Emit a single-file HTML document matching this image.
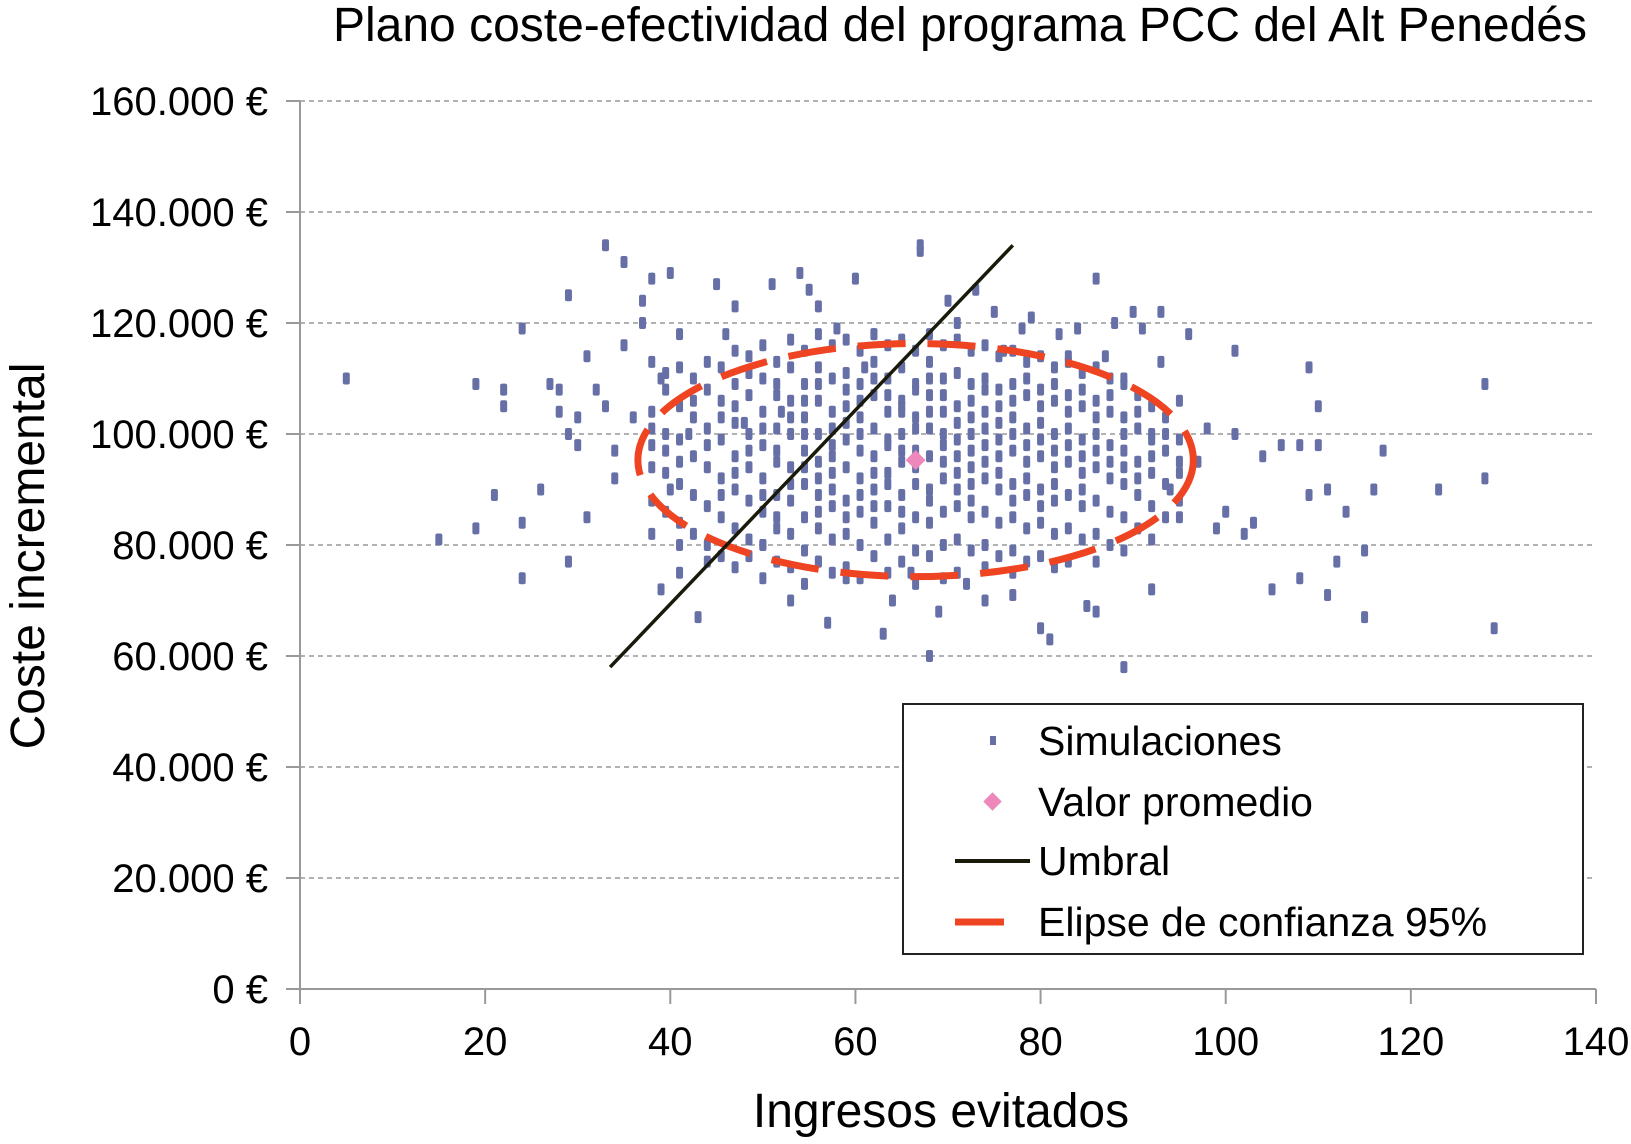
<!DOCTYPE html>
<html><head><meta charset="utf-8">
<style>
html,body{margin:0;padding:0;background:#fff;}
svg text{font-family:"Liberation Sans",Arial,sans-serif;fill:#000;}
</style></head>
<body>
<svg id="chart" width="1631" height="1139" viewBox="0 0 1631 1139" xmlns="http://www.w3.org/2000/svg">
<text x="960" y="41" font-size="48" text-anchor="middle">Plano coste-efectividad del programa PCC del Alt Penedés</text>
<g id="grid"></g>
<g id="axes"></g>
<g id="points"></g>
<g id="overlay"></g>
<text transform="translate(44,556) rotate(-90)" font-size="48" text-anchor="middle">Coste incremental</text>
<text x="941" y="1127" font-size="48" text-anchor="middle">Ingresos evitados</text>
<g>
<rect x="903" y="704" width="680" height="250" fill="#fff" stroke="#222" stroke-width="2"/>
<rect x="990" y="736" width="6" height="9" fill="#6670a6"/>
<text x="1038" y="755" font-size="41">Simulaciones</text>
<rect x="986" y="795" width="13" height="13" fill="#ee88bb" transform="rotate(45 992.5 801.5)"/>
<text x="1038" y="816" font-size="41">Valor promedio</text>
<line x1="955" y1="861" x2="1030" y2="861" stroke="#1a1a0a" stroke-width="4"/>
<text x="1038" y="875" font-size="41">Umbral</text>
<line x1="955" y1="922" x2="1004" y2="922" stroke="#ee4422" stroke-width="7"/>
<text x="1038" y="936" font-size="41">Elipse de confianza 95%</text>
</g>
</svg>
<script>
const xTicks=[0,20,40,60,80,100,120,140];
const yTicks=[0,20000,40000,60000,80000,100000,120000,140000,160000];
const yTickLabels=["0 €","20.000 €","40.000 €","60.000 €","80.000 €","100.000 €","120.000 €","140.000 €","160.000 €"];
const outX=[5,15,19,19,21,22,22,24,24,24,26,27,28,28,29,29,29,30,30,31,31,32,33,33,34,34,35,35,36,37,37,38,38,38,39,39,40,40,41,41,43,42,45,46,47,48,50,51,52,53,54,55,56,56,57,58,59,60,61,62,63,64,65,66,67,67,68,69,70,71,72,73,74,75,76,77,78,79,80,81,82,83,84,85,86,86,87,88,89,89,90,91,92,92,93,93,94,95,95,96,97,98,99,100,101,101,102,103,104,105,106,108,108,109,109,110,110,111,111,112,115,115,116,117,113,123,128,128,129];
const outY=[110,81,109,83,89,108,105,119,84,74,90,109,108,104,125,100,77,98,103,85,114,108,134,105,97,92,131,116,103,124,120,128,113,82,110,72,129,90,75,118,67,100,127,118,123,102,80,127,104,70,129,126,123,77,66,119,74,128,112,118,64,70,105,75,134,133,60,68,124,120,73,126,70,122,115,71,119,121,65,63,118,114,119,69,128,68,114,120,58,110,122,119,100,72,113,122,90,106,85,118,95,101,83,86,115,100,82,84,96,72,98,98,74,112,89,105,98,71,90,77,67,79,90,97,86,90,109,92,65];
const colX=[38,39.5,41,42.5,44,45.5,47,48.5,50,51.5,53,54.5,56,57.5,59,60.5,62,63.5,65,66.5,68,69.5,71,72.5,74,75.5,77,78.5,80,81.5,83,84.5,86,87.5,89,90.5,92,93.5,95];
const colY=[
[104,98,94,88,101],
[108,100,93,86,97,111],
[112,105,99,91,84,80,95],
[110,103,96,89,82,106],
[113,108,101,94,87,80,77,98],
[112,106,99,92,85,78,103,89],
[115,109,102,96,90,83,76,105,93],
[114,107,100,94,88,81,78,111,97],
[116,110,104,98,92,86,80,74,101,89],
[113,107,101,95,89,83,77,109,97,85],
[117,112,106,100,94,88,82,76,103,91],
[115,109,103,97,91,85,79,73,106,94,100],
[118,112,106,100,95,89,83,77,109,92,86],
[116,110,104,98,93,87,81,75,101,96,90],
[117,111,105,99,94,88,82,76,108,102,85],
[115,109,103,97,92,86,80,74,106,100,89],
[118,113,107,101,96,90,84,78,110,93,87],
[116,110,104,98,93,87,81,75,107,99,91],
[117,112,106,100,95,89,83,77,104,97,86],
[115,109,103,97,91,85,79,73,108,101,94],
[118,113,107,101,96,90,84,78,110,104,88],
[116,110,104,98,92,86,80,74,107,100,95],
[117,111,105,99,93,87,81,75,102,96,90],
[115,109,103,97,91,85,79,106,100,94,88],
[116,110,104,98,92,86,80,76,108,101,95],
[114,108,102,96,90,84,78,105,99,93],
[115,109,103,97,91,85,79,75,106,100,88],
[113,107,101,95,89,83,77,110,98,92],
[114,108,102,96,90,84,78,105,99,87],
[112,106,100,94,88,82,76,109,97,91],
[113,107,101,95,89,83,77,104,98],
[111,105,99,93,87,81,108,96,90],
[112,106,100,94,88,82,77,103,97],
[110,104,98,92,86,80,107,95],
[109,103,97,91,85,79,100,94],
[107,101,95,89,83,104,92],
[105,99,93,87,81,96],
[103,97,91,85,100],
[99,93,88,95]];
const meanX=[66.5];
const meanY=[95300];
const umbralX=[33.5,77];
const umbralY=[58000,134000];
const ellipseCenter=[66.5,95300];
const ellipseRadii=[30,21000];

const X0=300,X1=1596,Y0=989,Y1=101;
const sx=v=>X0+(v-0)/(140-0)*(X1-X0);
const sy=v=>Y0-(v-0)/(160000-0)*(Y0-Y1);
const NS="http://www.w3.org/2000/svg";
function mk(tag,attrs,parent){const e=document.createElementNS(NS,tag);for(const k in attrs)e.setAttribute(k,attrs[k]);document.getElementById(parent).appendChild(e);return e;}

yTicks.forEach((t,i)=>{
  const y=sy(t);
  if(t>0){const g=mk('line',{x1:X0,y1:y,x2:X1,y2:y,stroke:'#999','stroke-width':1.6,'stroke-dasharray':'5,4'},'grid');
  
  }
  const tk=mk('line',{x1:X0-14,y1:y,x2:X0,y2:y,stroke:'#999','stroke-width':2},'axes');
  
  
  const tx=mk('text',{x:268,y:y+14,'font-size':40,'text-anchor':'end'},'axes');
  tx.textContent=yTickLabels[i];
  
  
});
xTicks.forEach(t=>{
  const x=sx(t);
  const tk=mk('line',{x1:x,y1:Y0,x2:x,y2:Y0+15,stroke:'#999','stroke-width':2},'axes');
  
  
  const tx=mk('text',{x:x,y:1055,'font-size':40,'text-anchor':'middle'},'axes');
  tx.textContent=t;
  
  
});
const ya=mk('line',{x1:X0,y1:Y1,x2:X0,y2:Y0,stroke:'#999','stroke-width':2},'axes');


const xa=mk('line',{x1:X0,y1:Y0,x2:X1,y2:Y0,stroke:'#999','stroke-width':2},'axes');



function pt(x,y){
  const r=mk('rect',{x:sx(x)-3.5,y:sy(y)-6,width:7,height:12,rx:2,fill:'#6670a6'},'points');
  
  
}
outX.forEach((x,i)=>pt(x,outY[i]*1000));
colX.forEach((x,i)=>colY[i].forEach(y=>pt(x,y*1000)));

const [cx,cy]=ellipseCenter,[rx,ry]=ellipseRadii;
const el=mk('ellipse',{cx:sx(cx),cy:sy(cy),rx:sx(cx+rx)-sx(cx),ry:sy(cy)-sy(cy+ry),fill:'none',stroke:'#ee4422','stroke-width':7,'stroke-dasharray':'48,22'},'overlay');


const ul=mk('line',{x1:sx(umbralX[0]),y1:sy(umbralY[0]),x2:sx(umbralX[1]),y2:sy(umbralY[1]),stroke:'#1a1a0a','stroke-width':3.5},'overlay');


meanX.forEach((x,i)=>{
  const d=mk('rect',{x:sx(x)-7,y:sy(meanY[i])-7,width:14,height:14,fill:'#ee88bb',transform:`rotate(45 ${sx(x)} ${sy(meanY[i])})`},'overlay');
  
  
});
</script>
</body></html>
